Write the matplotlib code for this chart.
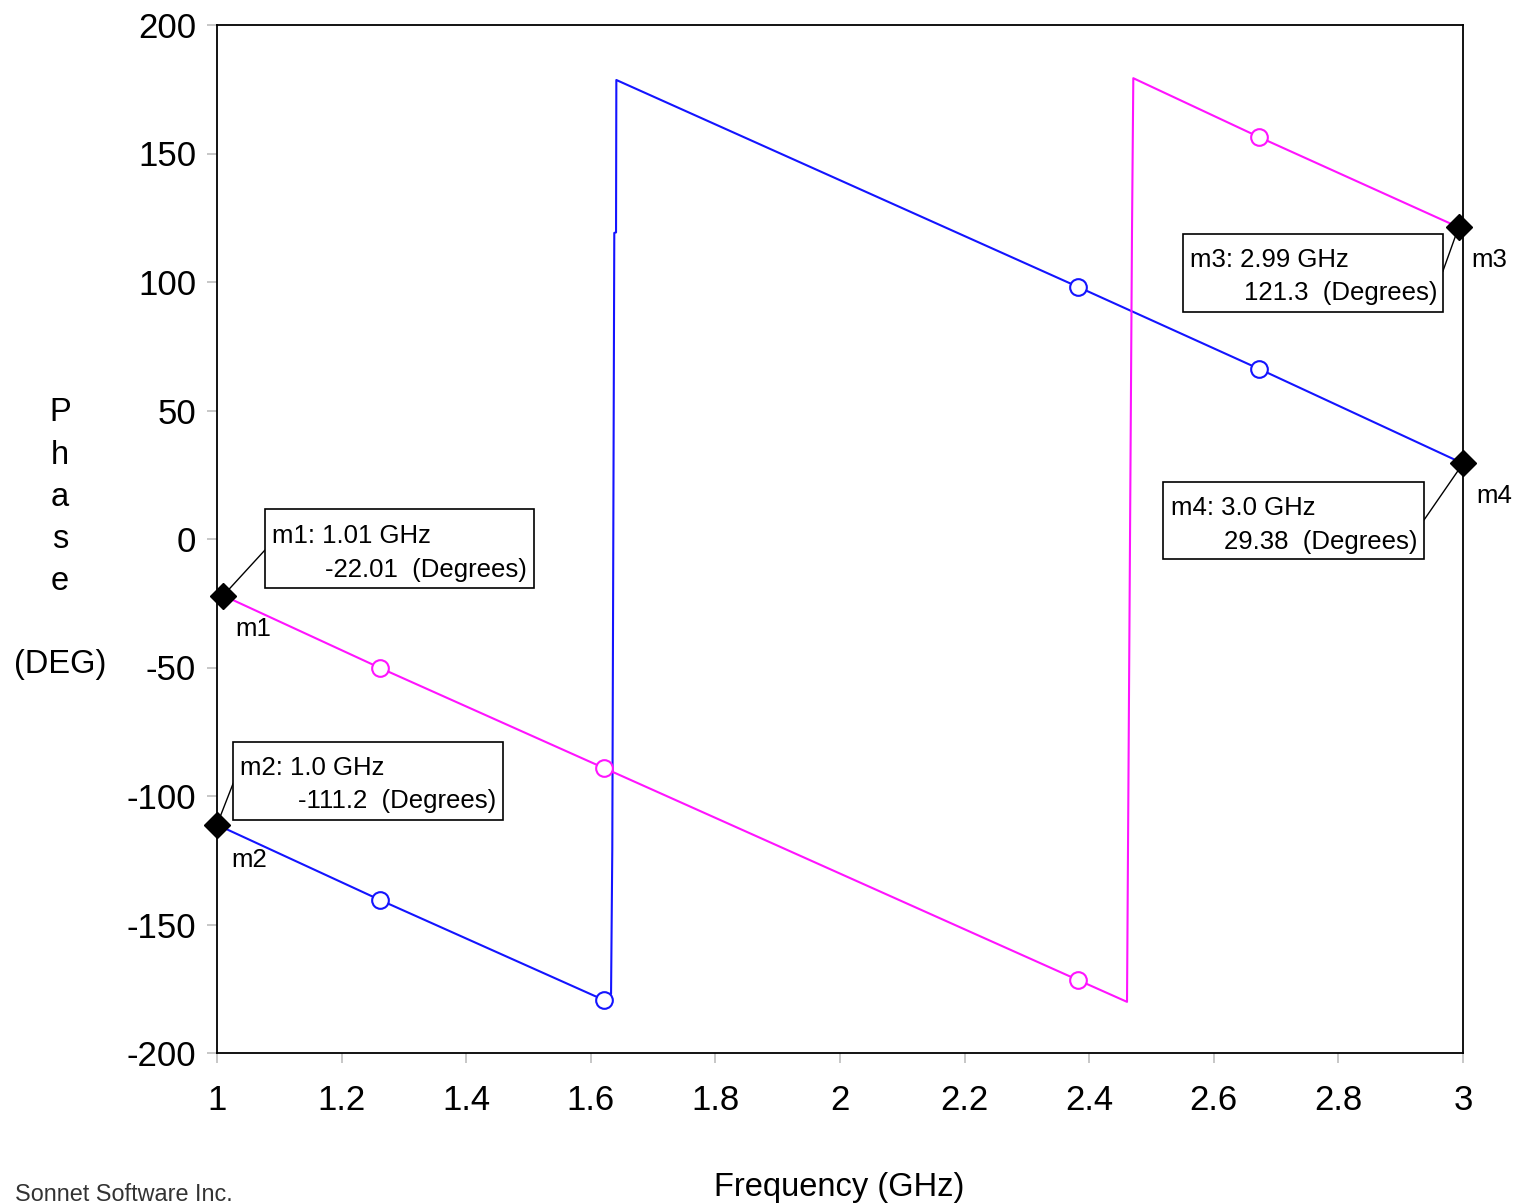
import numpy as np
import matplotlib
matplotlib.use("Agg")
import matplotlib.pyplot as plt
from matplotlib.patches import Rectangle

# trace 1 (blue), phase wraps at 1.63 GHz
freqBlue = [1.0, 1.262, 1.621, 1.6325, 1.6345, 1.6377, 1.6405, 1.6410, 2.382, 2.6726, 3.0]
phaseBlue = [-111.2, -140.5, -179.4, -177.0, -120.6, 119.1, 119.3, 178.6, 98.1, 66.2, 29.38]
circBlue = [1, 2, 8, 9]

# trace 2 (magenta), phase wraps at 2.46 GHz
freqMag = [1.01, 1.262, 1.621, 2.382, 2.4607, 2.4687, 2.4708, 2.6726, 2.993]
phaseMag = [-22.01, -50.2, -89.1, -171.6, -180.1, 119.8, 179.3, 156.4, 121.3]
circMag = [1, 2, 3, 7]

# markers
mNames = ["m1", "m2", "m3", "m4"]
mFreq = [1.01, 1.0, 2.993, 3.0]
mPhase = [-22.01, -111.2, 121.3, 29.38]
mLine1 = ["m1: 1.01 GHz", "m2: 1.0 GHz", "m3: 2.99 GHz", "m4: 3.0 GHz"]
mLine2 = ["-22.01  (Degrees)", "-111.2  (Degrees)", "121.3  (Degrees)", "29.38  (Degrees)"]

xTicks = [1, 1.2, 1.4, 1.6, 1.8, 2, 2.2, 2.4, 2.6, 2.8, 3]
xTickLabels = ["1", "1.2", "1.4", "1.6", "1.8", "2", "2.2", "2.4", "2.6", "2.8", "3"]
yTicks = [-200, -150, -100, -50, 0, 50, 100, 150, 200]

W, H = 1529, 1203
plt.rcParams['font.family'] = ['Liberation Sans', 'DejaVu Sans']
plt.rcParams['axes.unicode_minus'] = False

def fpx(x, y):
    # pixel position -> figure fraction
    return x / W, 1 - y / H

fig = plt.figure(figsize=(W / 100, H / 100), dpi=100)
ax = fig.add_axes([217 / W, 1 - 1053 / H, (1463 - 217) / W, (1053 - 25) / H])

ax.plot(freqBlue, phaseBlue, color='#1414ff', lw=1.5, marker='o', markevery=circBlue,
        ms=12, mfc='white', mec='#1414ff', mew=1.5, clip_on=False, zorder=3)
ax.plot(freqMag, phaseMag, color='#ff14ff', lw=1.5, marker='o', markevery=circMag,
        ms=12, mfc='white', mec='#ff14ff', mew=1.5, clip_on=False, zorder=3)

ax.set_xlim(1, 3)
ax.set_ylim(-200, 200)
ax.set_xticks(xTicks)
ax.set_xticklabels(xTickLabels)
ax.set_yticks(yTicks)
ax.tick_params(direction='out', length=7, width=1.2, color='#bdbdbd',
               labelsize=25, labelcolor='black')
ax.tick_params(axis='x', pad=15)
ax.tick_params(axis='y', pad=8)
for sp in ax.spines.values():
    sp.set_color('black')
    sp.set_linewidth(1.3)

# marker boxes (pixel layout)
boxes = [(265, 509.3, 534.3, 588.3), (233.3, 741.7, 502.7, 820),
         (1182.7, 234, 1442.7, 312.3), (1163.3, 481.7, 1424, 559.3)]
leadEnd = [(265, 550), (233.3, 783), (1442.7, 271.7), (1424, 520)]
line1Pos = [(271.7, 543.3), (240, 775), (1190, 266.7), (1170.7, 515)]
line2Pos = [(527, 577.3), (496, 808.3), (1437.5, 300), (1418, 549.3)]
namePos = [(235, 635.7), (231.7, 866.7), (1471.7, 266.7), (1476.7, 503.3)]

for i in range(len(mNames)):
    x0, y0, x1, y1 = boxes[i]
    bx, by = fpx(x0, y1)
    fig.add_artist(Rectangle((bx, by), (x1 - x0) / W, (y1 - y0) / H, transform=fig.transFigure,
                             facecolor='white', edgecolor='black', lw=1.2, zorder=5))
    ax.annotate('', xy=(mFreq[i], mPhase[i]), xycoords='data',
                xytext=fpx(*leadEnd[i]), textcoords='figure fraction',
                arrowprops=dict(arrowstyle='-', color='black', lw=1, shrinkA=0, shrinkB=0),
                annotation_clip=False, zorder=4)
    fig.text(*fpx(*line1Pos[i]), mLine1[i], fontsize=18.5, ha='left', va='baseline', zorder=6)
    fig.text(*fpx(*line2Pos[i]), mLine2[i], fontsize=18.5, ha='right', va='baseline', zorder=6)
    fig.text(*fpx(*namePos[i]), mNames[i], fontsize=18.5, ha='left', va='baseline')

ax.plot(mFreq, mPhase, linestyle='none', marker='D', ms=13, color='black', clip_on=False, zorder=6)

# axis titles
yLetters = ["P", "h", "a", "s", "e"]
yBase = [421, 464, 506, 548, 590]
for ch, yb in zip(yLetters, yBase):
    fig.text(*fpx(60, yb), ch, fontsize=23.5, ha='center', va='baseline')
fig.text(*fpx(60, 673), "(DEG)", fontsize=23.5, ha='center', va='baseline')
fig.text(*fpx(839, 1196), "Frequency (GHz)", fontsize=23.5, ha='center', va='baseline')
fig.text(*fpx(15, 1201), "Sonnet Software Inc.", fontsize=16.8, ha='left', va='baseline', color='#333333')

fig.savefig("out.png", dpi=100)
